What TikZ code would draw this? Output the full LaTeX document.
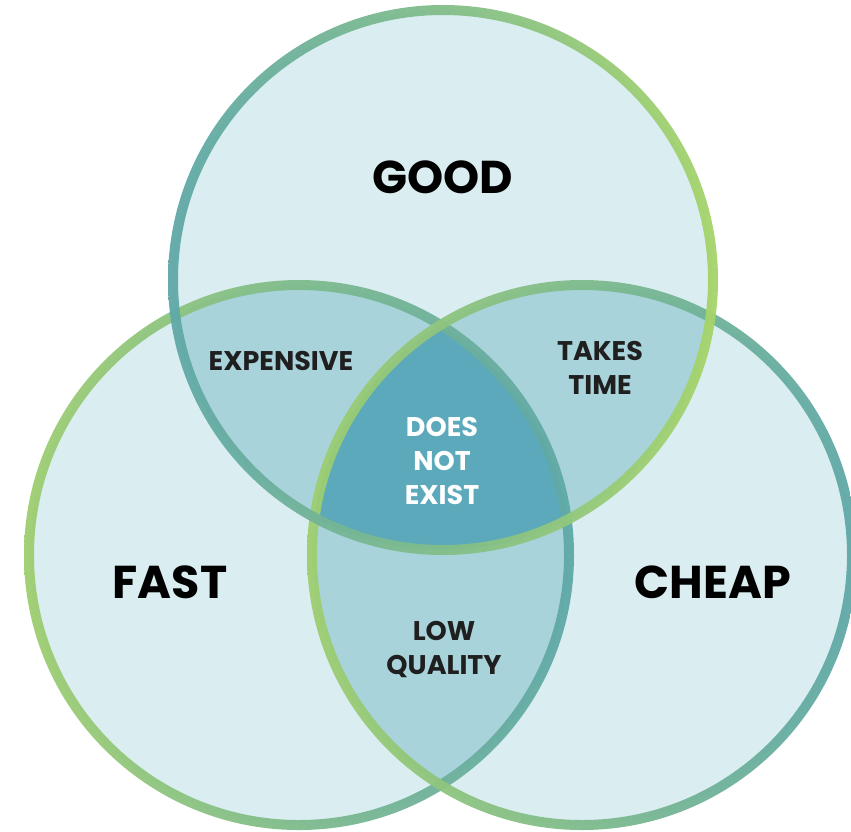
\documentclass[tikz,border=0pt]{standalone}
\usepackage{fontspec}
\setmainfont{Poppins}
\begin{document}
\begin{tikzpicture}[x=1pt,y=-1pt,
  bigword/.style={font=\fontsize{46}{50}\selectfont\bfseries, text=black},
  smallword/.style={font=\fontsize{27}{34}\selectfont\bfseries, align=center, text=black!88},
  whiteword/.style={smallword, text=white},
]
\definecolor{onefill}{HTML}{DAEDF0}
\definecolor{twofill}{HTML}{A9D3DA}
\definecolor{threefill}{HTML}{5BA9BA}
\definecolor{tealline}{HTML}{5FA8A8}
\definecolor{limeline}{HTML}{A6D46A}
\definecolor{greenline}{HTML}{9ECE70}

\useasboundingbox (0,0) rectangle (851,831);
\fill[white] (0,0) rectangle (851,831);

% circle centres
\coordinate (G) at (443,280);
\coordinate (F) at (299,555);
\coordinate (C) at (582,555);
\def\R{270pt}

% single-set areas
\fill[onefill] (G) circle[radius=\R];
\fill[onefill] (F) circle[radius=\R];
\fill[onefill] (C) circle[radius=\R];

% pairwise overlaps
\begin{scope}
  \clip (G) circle[radius=\R];
  \fill[twofill] (F) circle[radius=\R];
  \fill[twofill] (C) circle[radius=\R];
\end{scope}
\begin{scope}
  \clip (F) circle[radius=\R];
  \fill[twofill] (C) circle[radius=\R];
\end{scope}

% triple overlap
\begin{scope}
  \clip (G) circle[radius=\R];
  \clip (F) circle[radius=\R];
  \fill[threefill] (C) circle[radius=\R];
\end{scope}

% gradient outlines
\shade[even odd rule, left color=greenline, right color=tealline, opacity=0.95]
  (F) circle[radius=275pt] (F) circle[radius=265pt];
\shade[even odd rule, left color=greenline, right color=tealline, opacity=0.95]
  (C) circle[radius=275pt] (C) circle[radius=265pt];
\shade[even odd rule, left color=tealline, right color=limeline, opacity=0.95]
  (G) circle[radius=275pt] (G) circle[radius=265pt];

% labels
\node[bigword] (good) at (443,177) {GOOD};
\node[bigword] (fast) at (170,582) {FAST};
\node[bigword] (cheap) at (713,582) {CHEAP};
\node[smallword] (expensive) at (281,361) {EXPENSIVE};
\node[smallword] (takes) at (600,368) {TAKES\\TIME};
\node[whiteword] (none) at (442,461) {DOES\\NOT\\EXIST};
\node[smallword] (low) at (444,649) {LOW\\QUALITY};
\end{tikzpicture}
\end{document}
